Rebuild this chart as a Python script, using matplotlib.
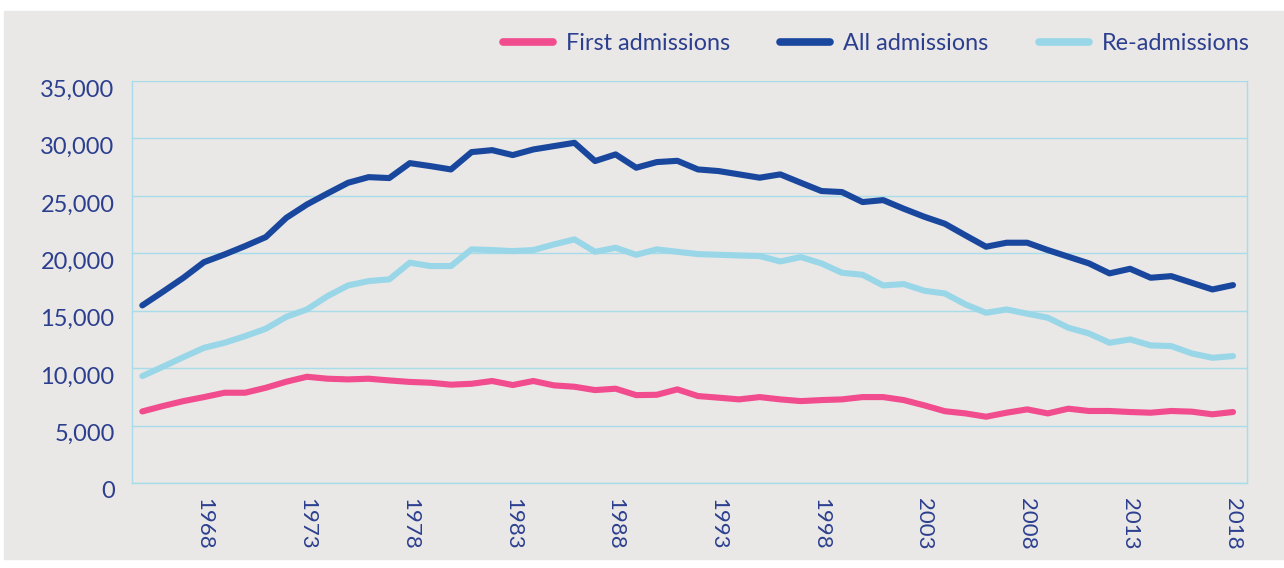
"""Psychiatric admissions 1965-2018: first, all and re-admissions."""

import matplotlib

matplotlib.use("Agg")
import matplotlib.pyplot as plt
import matplotlib.transforms as mtransforms
from matplotlib.patches import Rectangle
from matplotlib.ticker import FuncFormatter

years = list(range(1965, 2019))

all_admissions = [
    15460, 16650, 17870, 19230, 19900, 20630, 21410, 23090, 24250, 25210,
    26140, 26630, 26550, 27850, 27590, 27300, 28810, 28980, 28550, 29040,
    29330, 29620, 28030, 28610, 27450, 27940, 28050, 27300, 27160, 26870,
    26580, 26870, 26140, 25420, 25330, 24460, 24630, 23880, 23180, 22570,
    21560, 20570, 20920, 20920, 20280, 19700, 19120, 18250, 18650, 17870,
    18010, 17430, 16850, 17230,
]
re_admissions = [
    9310, 10120, 10960, 11770, 12210, 12790, 13430, 14470, 15110, 16270,
    17200, 17580, 17730, 19180, 18890, 18890, 20340, 20280, 20190, 20280,
    20770, 21210, 20130, 20480, 19870, 20340, 20130, 19930, 19870, 19810,
    19760, 19290, 19670, 19120, 18300, 18130, 17200, 17320, 16740, 16500,
    15550, 14820, 15110, 14740, 14390, 13520, 13020, 12210, 12500, 11980,
    11920, 11280, 10900, 11050,
]
first_admissions = [
    6230, 6700, 7130, 7480, 7860, 7860, 8290, 8820, 9250, 9080,
    9020, 9080, 8930, 8800, 8730, 8560, 8640, 8880, 8530, 8880,
    8500, 8380, 8090, 8210, 7650, 7680, 8150, 7570, 7430, 7280,
    7480, 7280, 7130, 7220, 7280, 7480, 7480, 7220, 6760, 6250,
    6060, 5770, 6120, 6410, 6060, 6470, 6270, 6270, 6180, 6120,
    6270, 6210, 5980, 6180,
]

tick_years = list(range(1968, 2019, 5))
y_ticks = list(range(0, 35001, 5000))

BG = "#e9e8e6"
GRID = "#a9dcea"
TEXT = "#2c3f8f"
PINK = "#f14c8d"
NAVY = "#1a479e"
SKY = "#99d7e8"

plt.rcParams["font.family"] = ["Lato", "DejaVu Sans"]


def main() -> None:
    fig = plt.figure(figsize=(12.84, 5.68), dpi=100)
    fig.patch.set_facecolor("white")
    # grey panel behind the whole chart
    fig.patches.append(Rectangle((4 / 1284, 9 / 568), 1 - 4 / 1284, 548 / 568,
                                 transform=fig.transFigure, color=BG, zorder=-10))

    ax = fig.add_axes([132 / 1284, 85 / 568, 1115 / 1284, 402 / 568])
    ax.set_facecolor(BG)

    kw = dict(lw=4.4, solid_capstyle="round", solid_joinstyle="round")
    ax.plot(years, first_admissions, color=PINK, label="First admissions", zorder=3, **kw)
    ax.plot(years, all_admissions, color=NAVY, label="All admissions", zorder=3, **kw)
    ax.plot(years, re_admissions, color=SKY, label="Re-admissions", zorder=3, **kw)

    ax.set_xlim(1964.5, 2018.68)
    ax.set_ylim(0, 35000)
    ax.set_yticks(y_ticks)
    ax.yaxis.set_major_formatter(FuncFormatter(lambda v, _: f"{int(v):,}"))
    ax.set_xticks(tick_years)
    ax.set_xticklabels([str(y) for y in tick_years], rotation=270)

    ax.grid(axis="y", color=GRID, lw=1.0, zorder=1)
    for side in ("left", "right", "bottom"):
        ax.spines[side].set_color(GRID)
        ax.spines[side].set_linewidth(1.0)
    ax.spines["top"].set_visible(False)

    ax.tick_params(axis="both", length=0, colors=TEXT)
    ax.tick_params(axis="y", pad=12.5, labelsize=17)
    ax.tick_params(axis="x", pad=11, labelsize=16)
    offset = mtransforms.ScaledTranslation(0, -7 / 100, fig.dpi_scale_trans)
    for lab in ax.get_yticklabels():
        lab.set_transform(lab.get_transform() + offset)

    leg = ax.legend(loc="center right", bbox_to_anchor=(1250 / 1284, 524 / 568),
                    bbox_transform=fig.transFigure, ncol=3, frameon=False,
                    fontsize=16.8, handlelength=2.15, handletextpad=0.56,
                    columnspacing=2.15, borderaxespad=0, borderpad=0)
    for txt in leg.get_texts():
        txt.set_color(TEXT)
    for h in leg.get_lines():
        h.set_linewidth(5.5)

    fig.savefig("out.png", dpi=100, facecolor="white")
    plt.close(fig)


if __name__ == "__main__":
    main()
